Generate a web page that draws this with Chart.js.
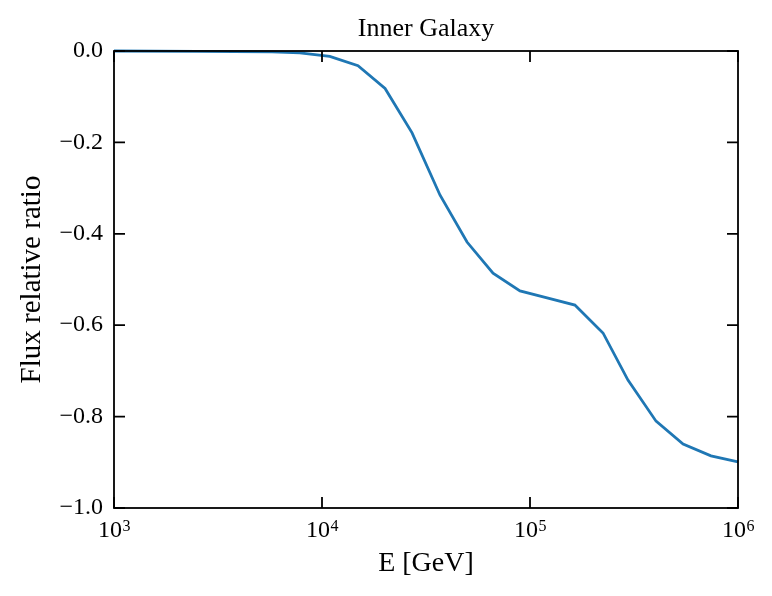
<!DOCTYPE html>
<html>
<head>
<meta charset="utf-8">
<script src="https://cdn.jsdelivr.net/npm/chart.js@4.4.1/dist/chart.umd.min.js"></script>
<style>
  html, body { margin: 0; padding: 0; background: #fff; }
  #wrap { width: 772px; height: 596px; }
</style>
</head>
<body>
<div id="wrap"><canvas id="grafico"></canvas></div>
<script>
// energias em GeV e razao relativa do fluxo
const energias = [1000, 2500, 5750, 7830, 10900, 14900, 20100, 27100, 36900, 49800,
  66400, 89500, 120800, 164400, 224400, 295800, 403600, 544500, 741300, 1000000];
const razao = [0.0, -0.001, -0.002, -0.004, -0.012, -0.032, -0.082, -0.179, -0.315, -0.418,
  -0.486, -0.525, -0.540, -0.556, -0.617, -0.720, -0.810, -0.860, -0.886, -0.899];
const ticksX = [1e3, 1e4, 1e5, 1e6];
const ticksY = [0, -0.2, -0.4, -0.6, -0.8, -1.0];

const fonte = "'Liberation Serif', 'DejaVu Serif', serif";

function rotuloY(v) {
  const s = Math.abs(v).toFixed(1);
  return v < -1e-9 ? '\u2212' + s : s;
}

// moldura, ticks para dentro e rotulos 10^n com expoente elevado
const eixosEstilo = {
  id: 'eixosEstilo',
  afterDraw(chart) {
    const c = chart.ctx;
    const a = chart.chartArea;
    const x = chart.scales.x;
    const y = chart.scales.y;
    const tam = 11;
    c.save();
    c.strokeStyle = '#000';
    c.lineWidth = 1.8;
    c.strokeRect(a.left, a.top, a.right - a.left, a.bottom - a.top);
    c.beginPath();
    ticksX.forEach(v => {
      const px = x.getPixelForValue(v);
      c.moveTo(px, a.bottom); c.lineTo(px, a.bottom - tam);
      c.moveTo(px, a.top); c.lineTo(px, a.top + tam);
    });
    ticksY.forEach(v => {
      const py = y.getPixelForValue(v);
      c.moveTo(a.left, py); c.lineTo(a.left + tam, py);
      c.moveTo(a.right, py); c.lineTo(a.right - tam, py);
    });
    c.stroke();

    c.fillStyle = '#000';
    c.textBaseline = 'alphabetic';
    c.textAlign = 'left';
    const base = a.bottom + 29;
    ticksX.forEach(v => {
      const px = x.getPixelForValue(v);
      const exp = String(Math.round(Math.log10(v)));
      c.font = '24px ' + fonte;
      const w1 = c.measureText('10').width;
      c.font = '16px ' + fonte;
      const w2 = c.measureText(exp).width;
      const x0 = px - (w1 + w2) / 2;
      c.font = '24px ' + fonte;
      c.fillText('10', x0, base);
      c.font = '16px ' + fonte;
      c.fillText(exp, x0 + w1 + 0.5, base - 6);
    });
    c.restore();
  }
};

const ctx = document.getElementById('grafico');

const chart = new Chart(ctx, {
  type: 'line',
  data: {
    datasets: [{
      data: energias.map((e, i) => ({ x: e, y: razao[i] })),
      borderColor: '#1f77b4',
      borderWidth: 2.8,
      pointRadius: 0,
      tension: 0,
      clip: 2
    }]
  },
  options: {
    responsive: true,
    maintainAspectRatio: false,
    animation: false,
    layout: { padding: { left: 0, right: 34, top: 0, bottom: 0 } },
    plugins: {
      legend: { display: false },
      tooltip: { enabled: false },
      title: {
        display: true,
        fullSize: false,
        text: 'Inner Galaxy',
        color: '#000',
        font: { family: fonte, size: 26, weight: 'normal' },
        padding: { top: 14, bottom: 5.8 }
      }
    },
    scales: {
      x: {
        type: 'logarithmic',
        min: 1e3,
        max: 1e6,
        afterBuildTicks(scale) {
          scale.ticks = ticksX.map(v => ({ value: v }));
        },
        afterFit(scale) { scale.height = 88; },
        grid: { display: false, drawTicks: false },
        border: { display: false },
        ticks: { display: false },
        title: {
          display: true,
          text: 'E [GeV]',
          color: '#000',
          font: { family: fonte, size: 28 },
          padding: { top: 0, bottom: 16 }
        }
      },
      y: {
        min: -1,
        max: 0,
        afterBuildTicks(scale) {
          scale.ticks = ticksY.map(v => ({ value: v }));
        },
        afterFit(scale) { scale.width = 114; },
        grid: { display: false, drawTicks: false },
        border: { display: false },
        ticks: {
          color: '#000',
          font: { family: fonte, size: 24 },
          padding: 11,
          callback: v => rotuloY(v)
        },
        title: {
          display: true,
          text: 'Flux relative ratio',
          color: '#000',
          font: { family: fonte, size: 29 },
          padding: { bottom: 0, top: 15 }
        }
      }
    }
  },
  plugins: [eixosEstilo]
});
</script>
</body>
</html>
